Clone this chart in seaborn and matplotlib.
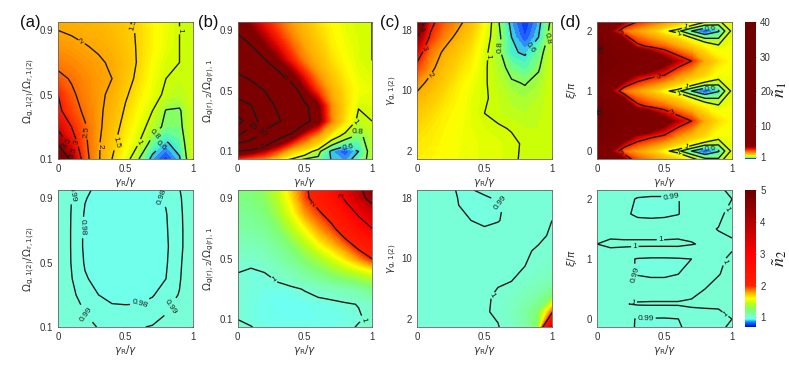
import numpy as np
import matplotlib
matplotlib.use("Agg")
import matplotlib.pyplot as plt
from matplotlib.colors import LinearSegmentedColormap
import seaborn as sns

# ---- data: rows run bottom to top, columns gamma_R/gamma = 0 ... 1 ----
x_ticks = [0, 0.5, 1]
x_tick_labels = ["0", "0.5", "1"]

a_top = [
    [5.0, 3.8, 2.7, 2.05, 1.5, 1.1, 0.8, 0.55, 0.42, 0.58, 1.0],
    [3.9, 3.3, 2.6, 2.05, 1.6, 1.25, 1.0, 0.72, 0.58, 0.68, 1.0],
    [3.4, 3.0, 2.55, 2.1, 1.7, 1.35, 1.1, 0.9, 0.75, 0.75, 1.0],
    [3.1, 2.75, 2.4, 2.1, 1.8, 1.45, 1.2, 1.0, 0.79, 0.78, 0.97],
    [3.0, 2.6, 2.3, 2.1, 1.9, 1.55, 1.3, 1.1, 0.95, 0.9, 1.0],
    [2.65, 2.45, 2.25, 2.1, 2.0, 1.65, 1.4, 1.15, 1.0, 0.95, 1.0],
    [2.35, 2.25, 2.15, 2.05, 1.95, 1.7, 1.45, 1.2, 1.03, 1.0, 1.0],
    [2.15, 2.1, 2.02, 1.95, 1.85, 1.65, 1.45, 1.25, 1.1, 1.0, 1.0],
    [2.0, 1.95, 1.9, 1.85, 1.75, 1.6, 1.45, 1.25, 1.12, 1.0, 1.0],
    [1.9, 1.85, 1.8, 1.75, 1.7, 1.55, 1.4, 1.25, 1.12, 1.0, 1.0],
]
b_top = [
    [1.0, 0.7, 1.0, 0.3, 0.4, 0.4, 0.7, 0.6, 0.6, 0.75, 0.85],
    [4.8, 4.3, 3.6, 2.7, 1.6, 1.2, 0.85, 0.56, 0.45, 0.6, 0.9],
    [15, 12, 8, 5.6, 4.4, 3.0, 2.0, 1.15, 0.9, 0.75, 0.9],
    [22, 17, 13, 10.5, 8, 5.5, 4.3, 2.3, 1.35, 0.92, 1.0],
    [16, 15.2, 11.5, 9.5, 7.5, 5.3, 4.1, 2.2, 1.45, 1.02, 1.05],
    [14, 12, 10, 8, 6, 4, 2.8, 1.9, 1.4, 1.15, 1.1],
    [10.5, 9, 7.5, 5.5, 4.2, 3.1, 2.2, 1.6, 1.3, 1.1, 1.05],
    [7.5, 6.2, 5.1, 4.0, 3.1, 2.3, 1.8, 1.4, 1.2, 1.05, 1.0],
    [6.0, 5.0, 4.0, 3.3, 2.6, 2.0, 1.6, 1.3, 1.15, 1.05, 1.0],
    [4.7, 4.1, 3.4, 2.8, 2.2, 1.8, 1.45, 1.25, 1.1, 1.03, 1.0],
    [4.0, 3.5, 3.0, 2.5, 2.0, 1.65, 1.35, 1.2, 1.08, 1.02, 1.0],
]
c_top = [
    [1.3, 1.25, 1.2, 1.15, 1.12, 1.08, 1.06, 1.02, 0.98, 0.97, 1.0],
    [1.35, 1.3, 1.22, 1.16, 1.12, 1.08, 1.06, 1.03, 0.98, 0.97, 1.0],
    [1.45, 1.35, 1.25, 1.18, 1.1, 1.05, 1.02, 0.99, 0.95, 0.95, 1.0],
    [1.6, 1.45, 1.3, 1.2, 1.1, 1.0, 0.96, 0.92, 0.9, 0.93, 1.0],
    [1.85, 1.6, 1.4, 1.25, 1.1, 1.02, 0.95, 0.88, 0.85, 0.9, 1.0],
    [2.2, 1.85, 1.55, 1.3, 1.15, 1.02, 0.92, 0.82, 0.79, 0.85, 1.0],
    [2.8, 2.15, 1.7, 1.45, 1.25, 1.03, 0.88, 0.74, 0.68, 0.78, 0.98],
    [3.4, 2.4, 1.9, 1.6, 1.35, 1.05, 0.85, 0.62, 0.58, 0.72, 0.95],
    [4.0, 2.9, 2.3, 1.85, 1.5, 1.12, 0.85, 0.6, 0.45, 0.6, 0.9],
    [5.0, 3.2, 2.6, 2.2, 1.7, 1.2, 0.82, 0.55, 0.4, 0.55, 0.85],
]
d_row_00 = [8.0, 4.0, 2.4, 2.0, 1.6, 1.08, 0.85, 0.6, 0.42, 0.58, 1.05]
d_row_25 = [25, 10, 4.8, 3.6, 3.2, 2.9, 2.2, 1.7, 1.4, 1.12, 1.15]
d_row_50 = [28, 20, 12, 8, 6, 4.5, 3.6, 3.0, 1.9, 1.4, 1.2]
d_row_75 = [32, 12, 5.5, 3.2, 2.8, 2.5, 2.0, 1.5, 1.2, 1.03, 1.15]
d_top = [d_row_75, d_row_00, d_row_25, d_row_50, d_row_75, d_row_00,
         d_row_25, d_row_50, d_row_75, d_row_00, d_row_25]

a_bottom = [
    [1.0, 0.995, 0.993, 0.9895, 0.987, 0.987, 0.9895, 0.9905, 0.992, 0.995, 1.0],
    [1.0, 0.995, 0.9895, 0.986, 0.9825, 0.9825, 0.983, 0.986, 0.9895, 0.994, 1.0],
    [1.0, 0.992, 0.986, 0.98, 0.977, 0.976, 0.976, 0.979, 0.986, 0.9905, 1.0],
    [1.0, 0.9905, 0.981, 0.977, 0.975, 0.974, 0.974, 0.976, 0.98, 0.989, 1.0],
    [1.0, 0.9895, 0.979, 0.975, 0.973, 0.972, 0.973, 0.975, 0.979, 0.988, 1.0],
    [1.0, 0.9893, 0.978, 0.974, 0.972, 0.971, 0.972, 0.974, 0.9785, 0.987, 0.999],
    [1.0, 0.9893, 0.978, 0.975, 0.973, 0.972, 0.973, 0.975, 0.979, 0.987, 0.999],
    [1.0, 0.9895, 0.979, 0.976, 0.974, 0.974, 0.975, 0.976, 0.9795, 0.9875, 0.999],
    [1.0, 0.99, 0.9805, 0.977, 0.976, 0.976, 0.976, 0.977, 0.981, 0.9885, 0.999],
    [1.0, 0.992, 0.983, 0.979, 0.977, 0.977, 0.978, 0.979, 0.982, 0.9905, 0.999],
]
b_bottom = [
    [1.02, 1.02, 0.995, 0.985, 0.98, 0.98, 0.98, 0.985, 0.99, 1.03, 1.05],
    [1.0, 0.985, 0.975, 0.97, 0.97, 0.97, 0.97, 0.975, 0.98, 0.99, 1.02],
    [1.0, 0.985, 0.972, 0.965, 0.965, 0.968, 0.975, 0.98, 0.99, 1.003, 1.03],
    [1.0, 0.99, 0.98, 0.975, 0.985, 1.005, 1.03, 1.05, 1.08, 1.12, 1.2],
    [0.998, 0.988, 0.995, 1.03, 1.07, 1.13, 1.2, 1.28, 1.35, 1.42, 1.5],
    [1.03, 1.02, 1.05, 1.1, 1.16, 1.27, 1.37, 1.5, 1.65, 1.82, 2.0],
    [1.07, 1.07, 1.1, 1.17, 1.27, 1.42, 1.6, 1.75, 1.9, 2.12, 2.35],
    [1.12, 1.13, 1.17, 1.25, 1.42, 1.6, 1.8, 1.93, 2.2, 2.6, 3.0],
    [1.16, 1.17, 1.22, 1.35, 1.55, 1.8, 1.95, 2.15, 2.6, 3.1, 3.5],
    [1.2, 1.22, 1.28, 1.42, 1.65, 1.93, 2.15, 2.5, 3.1, 3.7, 4.3],
    [1.22, 1.25, 1.32, 1.48, 1.72, 1.95, 2.2, 2.6, 3.2, 3.9, 4.8],
]
c_bottom = [
    [0.999, 0.998, 0.996, 0.994, 0.993, 0.995, 0.997, 1.03, 1.1, 1.3, 3.5],
    [0.999, 0.998, 0.997, 0.995, 0.995, 0.995, 1.008, 1.05, 1.12, 1.25, 1.9],
    [0.999, 0.998, 0.997, 0.996, 0.996, 0.997, 1.003, 1.03, 1.07, 1.12, 1.25],
    [0.999, 0.998, 0.997, 0.996, 0.996, 0.997, 0.998, 1.0, 1.02, 1.05, 1.08],
    [0.998, 0.997, 0.996, 0.995, 0.995, 0.995, 0.996, 0.998, 1.0, 1.01, 1.03],
    [0.998, 0.997, 0.996, 0.995, 0.994, 0.994, 0.995, 0.997, 0.999, 1.001, 1.01],
    [0.998, 0.997, 0.996, 0.995, 0.994, 0.993, 0.994, 0.995, 0.997, 0.9985, 1.001],
    [0.997, 0.996, 0.995, 0.993, 0.99, 0.988, 0.9895, 0.993, 0.996, 0.998, 1.0],
    [0.996, 0.995, 0.994, 0.9905, 0.985, 0.986, 0.9885, 0.993, 0.996, 0.998, 1.0],
    [0.995, 0.995, 0.993, 0.9895, 0.9895, 0.992, 0.994, 0.996, 0.998, 0.999, 1.0],
]
d_bottom = [
    [0.997, 0.996, 0.993, 0.989, 0.988, 0.988, 0.988, 0.992, 0.996, 0.999, 1.006],
    [0.997, 0.995, 0.992, 0.9895, 0.9893, 0.9892, 0.9899, 0.993, 0.995, 0.998, 1.0],
    [0.997, 0.998, 0.9995, 1.0008, 1.001, 1.001, 1.001, 1.002, 1.002, 1.001, 1.003],
    [0.997, 0.996, 0.995, 0.995, 0.995, 0.995, 0.995, 0.996, 1.0, 1.002, 1.004],
    [0.996, 0.994, 0.992, 0.9895, 0.9885, 0.9885, 0.9899, 0.993, 0.997, 0.9997, 1.002],
    [0.997, 0.994, 0.992, 0.9895, 0.989, 0.989, 0.9893, 0.99, 0.994, 0.998, 1.002],
    [1.0, 1.002, 1.002, 1.002, 1.002, 1.002, 1.002, 1.0005, 0.9988, 0.998, 0.998],
    [0.997, 0.996, 0.995, 0.995, 0.995, 0.995, 0.996, 0.997, 0.9985, 1.0003, 1.003],
    [0.996, 0.995, 0.9915, 0.9885, 0.988, 0.9885, 0.9897, 0.993, 0.996, 0.998, 1.003],
    [0.996, 0.995, 0.992, 0.9895, 0.989, 0.989, 0.9898, 0.992, 0.995, 0.998, 1.0],
    [0.995, 0.995, 0.995, 0.995, 0.995, 0.995, 0.995, 0.996, 0.997, 0.9995, 1.006],
]

# colour scales: value -> colour stops
n1_stops = [(0.3, "#0000e0"), (0.4, "#0030ff"), (0.5, "#2a70ff"), (0.6, "#40e8e0"), (0.7, "#60ffa0"),
            (0.8, "#90ff50"), (0.9, "#b8ff20"), (1.0, "#d0ff00"), (1.2, "#ffff00"), (1.5, "#ffd000"),
            (2.0, "#ffa800"), (2.5, "#ff6a00"), (3.0, "#ff2000"), (3.5, "#d00000"), (4.0, "#800000"),
            (40.0, "#6e0000")]
n2_stops = [(0.7, "#0000e0"), (0.85, "#0080ff"), (0.95, "#66ffff"), (1.0, "#7affd4"), (1.25, "#80ff70"),
            (1.45, "#c0ff10"), (1.6, "#ffff00"), (1.8, "#ffa000"), (2.0, "#ff2000"), (3.0, "#ff0000"),
            (4.0, "#b00000"), (5.0, "#6a0000")]


def make_cmap(name, stops):
    lo, hi = stops[0][0], stops[-1][0]
    return LinearSegmentedColormap.from_list(
        name, [((v - lo) / (hi - lo), c) for v, c in stops], N=8192), lo, hi


sns.set_theme(style="white")
plt.rcParams["font.family"] = ["Liberation Sans", "DejaVu Sans"]
plt.rcParams["mathtext.fontset"] = "dejavusans"

W, H = 789, 387
fig = plt.figure(figsize=(W / 100, H / 100), dpi=100)
GRAY = "#333333"


def px_axes(x0, x1, y0, y1):
    return fig.add_axes([x0 / W, 1 - y1 / H, (x1 - x0) / W, (y1 - y0) / H])


cm1, lo1, hi1 = make_cmap("n1", n1_stops)
cm2, lo2, hi2 = make_cmap("n2", n2_stops)
fine1 = np.unique(np.round(np.concatenate([np.arange(0.3, 5.0, 0.05), np.arange(5, 46, 1.0)]), 4))
fine2 = np.unique(np.round(np.concatenate([np.arange(0.6, 0.95, 0.025), np.arange(0.95, 1.05, 0.01),
                                           np.arange(1.05, 5.6, 0.025)]), 4))

XCOLS = [(58, 193), (237.5, 372), (417, 552), (597, 732)]
ROWS = [(22, 159), (190, 327)]


def panel(col, row, data, y0, dy, ylim, yticks, ylabels, ylabel, levels, labels):
    ax = px_axes(*XCOLS[col], *ROWS[row])
    Z = np.array(data, dtype=float)
    cm, lo, hi, fine = (cm1, lo1, hi1, fine1) if row == 0 else (cm2, lo2, hi2, fine2)
    sns.heatmap(Z, ax=ax, cmap=cm, vmin=lo, vmax=hi, cbar=False, shading="gouraud",
                xticklabels=False, yticklabels=False)
    ax.contourf(Z, levels=fine, cmap=cm, vmin=lo, vmax=hi)
    cs = ax.contour(Z, levels=levels, colors="k", linewidths=1.0)
    to_y = lambda v: (v - y0) / dy
    ax.clabel(cs, inline=True, fontsize=6, fmt="%g", inline_spacing=1,
              manual=[(x * 10, to_y(y)) for x, y in labels])
    ax.set_xlim(0, 10)
    ax.set_ylim(to_y(ylim[0]), to_y(ylim[1]))
    ax.set_xticks([t * 10 for t in x_ticks], x_tick_labels)
    ax.set_yticks([to_y(t) for t in yticks], ylabels)
    ax.tick_params(axis="both", direction="in", length=1.5, width=0.5, color="#555555",
                   labelsize=7, labelcolor=GRAY, pad=3.5, left=True, bottom=True, right=True, top=True)
    for s in ax.spines.values():
        s.set_visible(True)
        s.set_color("#666666")
        s.set_linewidth(0.6)
    ax.set_xlabel(r"$\gamma_{\mathrm{R}}/\gamma$", fontsize=7.5, color=GRAY, labelpad=1)
    ax.set_ylabel(ylabel, fontsize=7.5, color=GRAY, labelpad=1)
    ax.yaxis.set_label_coords(-0.155 if col < 2 else -0.135, 0.5)
    return ax


Y_A = r"$\Omega_{\mathrm{g,1(2)}}/\Omega_{\mathrm{r,1(2)}}$"
Y_B = r"$\Omega_{\mathrm{g(r),2}}/\Omega_{\mathrm{g(r),1}}$"
Y_C = r"$\gamma_{\mathrm{g,1(2)}}$"
Y_D = r"$\xi/\pi$"

panel(0, 0, a_top, 0.1, 0.1, (0.1, 0.952), [0.1, 0.5, 0.9], ["0.1", "0.5", "0.9"], Y_A,
      [0.6, 0.8, 1, 1.5, 2, 2.5, 3, 3.5, 4],
      [(0.55, 0.93), (0.15, 0.79), (0.88, 0.9), (0.2, 0.27), (0.07, 0.2), (0.14, 0.2), (0.1, 0.13),
       (0.3, 0.18), (0.44, 0.2), (0.58, 0.21), (0.7, 0.27), (0.75, 0.2)])
panel(1, 0, b_top, 0.0, 0.1, (0.05, 0.953), [0.1, 0.5, 0.9], ["0.1", "0.5", "0.9"], Y_B,
      [0.6, 0.8, 1, 5, 10, 15, 20],
      [(0.37, 0.58), (0.18, 0.13), (0.2, 0.2), (0.12, 0.25), (0.9, 0.22), (0.87, 0.3), (0.83, 0.14)])
panel(2, 0, c_top, 1, 2, (1, 19), [2, 10, 18], ["2", "10", "18"], Y_C,
      [0.6, 0.8, 1, 2, 3, 4],
      [(0.03, 18), (0.06, 15.5), (0.1, 12), (0.48, 14.5), (0.58, 15.7), (0.85, 15.5), (0.94, 17)])
panel(3, 0, d_top, -0.25, 0.25, (-0.133, 2.15), [0, 1, 2], ["0", "1", "2"], Y_D,
      [0.6, 0.8, 1, 3, 30],
      [(0.18, 1.93), (0.45, 1.25), (0.55, 0.6), (0.18, -0.07), (0.01, 1.7), (0.01, 0.65),
       (0.65, 2.1), (0.6, 1.88), (0.65, 1.12), (0.6, 0.88), (0.65, 0.12), (0.6, -0.1),
       (0.84, 2.03), (0.84, 1.03), (0.84, 0.03)])
panel(0, 1, a_bottom, 0.1, 0.1, (0.1, 0.952), [0.1, 0.5, 0.9], ["0.1", "0.5", "0.9"], Y_A,
      [0.98, 0.99, 1],
      [(0.1, 0.93), (0.83, 0.93), (0.17, 0.72), (0.6, 0.26), (0.18, 0.16), (0.84, 0.22)])
panel(1, 1, b_bottom, 0.0, 0.1, (0.05, 0.953), [0.1, 0.5, 0.9], ["0.1", "0.5", "0.9"], Y_B,
      [1, 2, 3, 4],
      [(0.27, 0.36), (0.56, 0.85), (0.78, 0.92), (0.97, 0.1)])
panel(2, 1, c_bottom, 1, 2, (1, 19), [2, 10, 18], ["2", "10", "18"], Y_C,
      [0.99, 1, 2],
      [(0.6, 17), (0.57, 5)])
panel(3, 1, d_bottom, -0.25, 0.25, (-0.133, 2.15), [0, 1, 2], ["0", "1", "2"], Y_D,
      [0.99, 1],
      [(0.55, 2.03), (0.28, 0.72), (0.36, 0.03), (0.28, 1.23), (0.47, 1.31), (0.27, 0.26),
       (0.97, 0.15), (0.95, 1.85), (0.95, 0.95)])

# colour bars (one heatmap each supplies the mappable)
for row, (cm, lo, hi, ticks, lab) in enumerate([(cm1, lo1, hi1, [1, 10, 20, 30, 40], r"$\tilde{n}_1$"),
                                                (cm2, lo2, hi2, [1, 2, 3, 4, 5], r"$\tilde{n}_2$")]):
    cax = px_axes(745, 756, *ROWS[row])
    hidden = fig.add_axes([0, 0, 0.01, 0.01])
    hidden.set_visible(False)
    sns.heatmap(np.array([[lo, hi]]), ax=hidden, cmap=cm, vmin=lo, vmax=hi, cbar=True, cbar_ax=cax,
                xticklabels=False, yticklabels=False)
    cax.set_yticks(ticks, [str(t) for t in ticks])
    cax.tick_params(axis="y", direction="in", length=1.5, width=0.5, color="#555555",
                    labelsize=7, labelcolor=GRAY, pad=3, right=True, left=False)
    fig.text(780 / W, 1 - (ROWS[row][0] + 68) / H, lab, rotation=90, ha="center", va="center",
             fontsize=13, color="k", math_fontfamily="stix")

for s, x in zip(["(a)", "(b)", "(c)", "(d)"], [20, 198, 380, 560]):
    fig.text(x / W, 1 - 27 / H, s, fontsize=12, color="#111111", va="baseline", ha="left")

fig.savefig("out.png", dpi=100)
